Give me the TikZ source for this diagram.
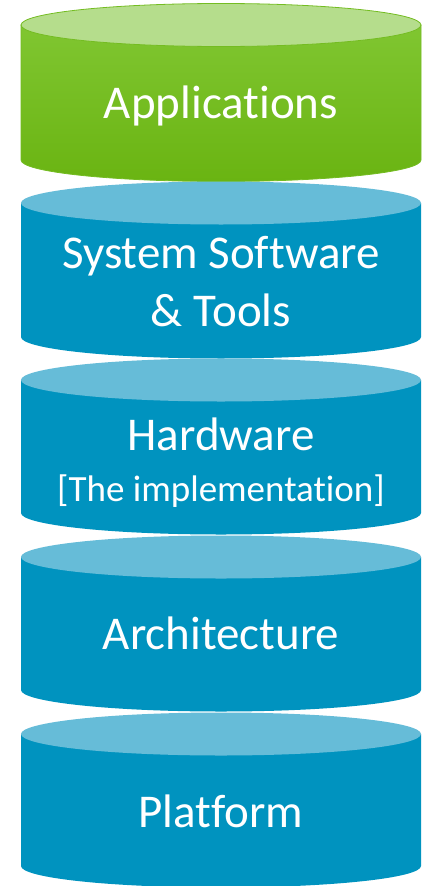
\documentclass[tikz,border=0pt]{standalone}
\usepackage{fontspec}
\setmainfont{Carlito}[Ligatures=NoCommon]
\definecolor{appTop}{HTML}{B5DD8C}
\definecolor{appSideA}{HTML}{80C631}
\definecolor{appSideB}{HTML}{6AB412}
\definecolor{appEdge}{HTML}{74BC22}
\definecolor{layTop}{HTML}{66BCD8}
\definecolor{laySide}{HTML}{0093BF}
\tikzset{
  x=1pt, y=-1pt,
  label/.style={text=white, inner sep=0pt, anchor=base, font=\fontsize{47}{56}\selectfont},
  sublabel/.style={label, font=\fontsize{37}{44}\selectfont},
}
% one drum: top-face centre y, bottom-face centre y, side style, top style
\newcommand\drumlayer[4]{%
  \path[#3] (21,#1) -- (21,#2) arc[start angle=180, end angle=360, x radius=200, y radius=-21.5] -- (421,#1) -- cycle;
  \path[#4] (221,#1) ellipse[x radius=200, y radius=21.5];
}
\begin{document}
\begin{tikzpicture}
\useasboundingbox (0,0) rectangle (436,886);
% stacked layers, top to bottom
\drumlayer{25}{160}{top color=appSideA, bottom color=appSideB, draw=appEdge, line width=0.8pt}{fill=appTop, draw=appEdge, line width=0.8pt}
\drumlayer{203}{337}{fill=laySide}{fill=layTop}
\drumlayer{380}{513}{fill=laySide}{fill=layTop}
\drumlayer{557}{690}{fill=laySide}{fill=layTop}
\drumlayer{734}{866}{fill=laySide}{fill=layTop}
% labels
\node[label] (apps) at (221,118) {Applications};
\node[label] (sys1) at (221,268) {System Software};
\node[label] (sys2) at (221,326) {\& Tools};
\node[label] (hw) at (221,450) {Hardware};
\node[sublabel] (hwsub) at (221,501) {[The implementation]};
\node[label] (arch) at (221,649) {Architecture};
\node[label] (plat) at (221,827) {Platform};
\end{tikzpicture}
\end{document}
